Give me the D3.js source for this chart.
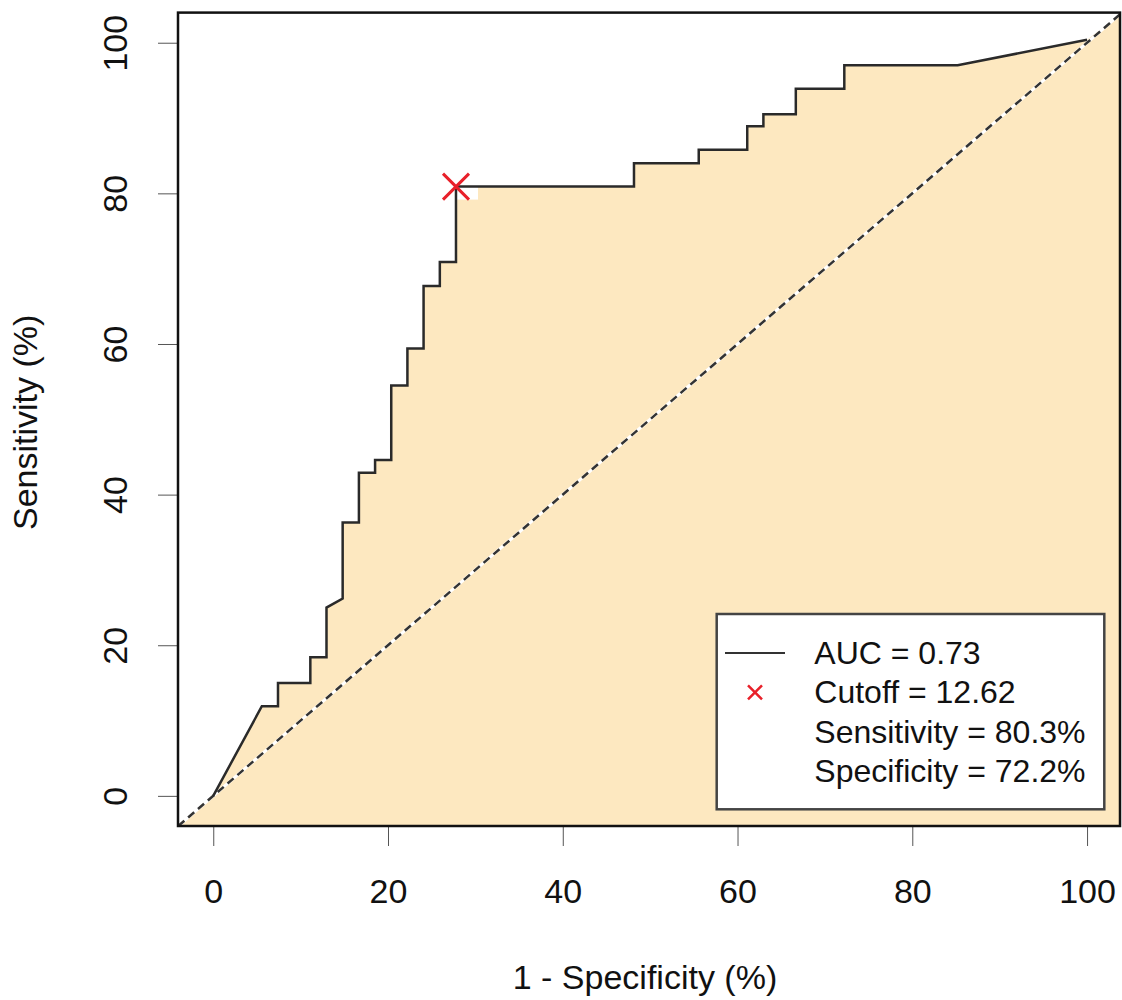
<!DOCTYPE html>
<html>
<head>
<meta charset="utf-8">
<script src="https://cdn.jsdelivr.net/npm/d3@7"></script>
<style>
  body { margin: 0; background: #fff; }
  text { font-family: "Liberation Sans", Arial, Helvetica, sans-serif; fill: #111; }
</style>
</head>
<body>
<svg width="1122" height="1000"></svg>
<script>
// ROC curve vertices (1 - specificity, sensitivity), in %
const fpr = [0, 5.56, 7.41, 7.41, 11.11, 11.11, 12.96, 12.96, 14.81, 14.81, 16.67, 16.67,
  18.52, 18.52, 20.37, 20.37, 22.22, 22.22, 24.07, 24.07, 25.93, 25.93, 27.78, 27.78,
  48.15, 48.15, 55.56, 55.56, 61.11, 61.11, 62.96, 62.96, 66.67, 66.67, 72.22, 72.22, 85.19, 100];
const tpr = [0, 11.9, 11.9, 15.0, 15.0, 18.4, 18.4, 25.0, 26.2, 36.3, 36.3, 42.9,
  42.9, 44.6, 44.6, 54.5, 54.5, 59.4, 59.4, 67.7, 67.7, 70.9, 70.9, 80.9,
  80.9, 84.0, 84.0, 85.8, 85.8, 88.9, 88.9, 90.5, 90.5, 93.9, 93.9, 97.0, 97.0, 100.4];
const cutoff = [27.78, 80.9];
const xTicks = [0, 20, 40, 60, 80, 100];
const yTicks = [0, 20, 40, 60, 80, 100];
const legendLabels = ['AUC = 0.73', 'Cutoff = 12.62', 'Sensitivity = 80.3%', 'Specificity = 72.2%'];

const svg = d3.select('svg');
const width = +svg.attr('width');
const height = +svg.attr('height');

const box = { left: 178, right: 1120, top: 12.6, bottom: 826 };

// R style: axis range extended by 4% on each side
const xScale = d3.scaleLinear().domain([-4, 104]).range([178.3, 1122]);
const yScale = d3.scaleLinear().domain([-4, 104]).range([826, 12.6]);

svg.append('clipPath').attr('id', 'plotclip')
  .append('rect')
  .attr('x', box.left).attr('y', box.top)
  .attr('width', box.right - box.left).attr('height', box.bottom - box.top);

const plot = svg.append('g').attr('clip-path', 'url(#plotclip)');

const line = d3.line().x(d => xScale(d[0])).y(d => yScale(d[1]));
const pts = fpr.map((f, i) => [f, tpr[i]]);

// area under the curve
plot.append('path')
  .attr('d', line([[-4, -4], ...pts, [104, 104], [104, -4]]) + 'Z')
  .attr('fill', '#fde8c0');

// white patch behind the cutoff marker
const cx = xScale(cutoff[0]);
const cy = yScale(cutoff[1]);
plot.append('rect')
  .attr('x', cx - 13).attr('y', cy - 24)
  .attr('width', 35).attr('height', 37)
  .attr('fill', '#fff');

// chance line
const diag = [[-4, -4], [104, 104]];
plot.append('path').attr('d', line(diag))
  .attr('stroke', '#fff').attr('stroke-width', 3).attr('fill', 'none');
plot.append('path').attr('d', line(diag))
  .attr('stroke', '#333').attr('stroke-width', 2.5)
  .attr('stroke-dasharray', '8,5').attr('fill', 'none');

// ROC curve
plot.append('path').attr('d', line(pts))
  .attr('stroke', '#2a2a2a').attr('stroke-width', 2.5).attr('fill', 'none');

// cutoff marker
const cross = (g, x, y, r, w) => {
  g.append('path')
    .attr('d', `M${x - r},${y - r}L${x + r},${y + r}M${x - r},${y + r}L${x + r},${y - r}`)
    .attr('stroke', '#e8202a').attr('stroke-width', w).attr('fill', 'none');
};
cross(plot, cx, cy, 13, 3);

// axes
const xAxisG = svg.append('g')
  .attr('transform', `translate(0,${box.bottom})`)
  .call(d3.axisBottom(xScale).tickValues(xTicks).tickSize(20).tickPadding(33));
xAxisG.select('.domain').remove();
xAxisG.selectAll('.tick line').attr('stroke', '#555');
xAxisG.selectAll('.tick text').attr('font-size', 34).attr('fill', '#111')
  .attr('font-family', '"Liberation Sans", Arial, sans-serif');

const yAxisG = svg.append('g')
  .attr('transform', `translate(${box.left},0)`)
  .call(d3.axisLeft(yScale).tickValues(yTicks).tickSize(20));
yAxisG.select('.domain').remove();
yAxisG.selectAll('.tick line').attr('stroke', '#555');
yAxisG.selectAll('.tick text')
  .attr('transform', 'rotate(-90)')
  .attr('x', 0).attr('y', -51).attr('dy', 0)
  .attr('text-anchor', 'middle')
  .attr('font-size', 34).attr('fill', '#111')
  .attr('font-family', '"Liberation Sans", Arial, sans-serif');

// axis titles
svg.append('text')
  .attr('x', (box.left + width) / 2 - 5).attr('y', 989)
  .attr('text-anchor', 'middle').attr('font-size', 34)
  .text('1 - Specificity (%)');

svg.append('text')
  .attr('transform', `translate(37,${(box.top + box.bottom) / 2 + 3}) rotate(-90)`)
  .attr('text-anchor', 'middle').attr('font-size', 34)
  .text('Sensitivity (%)');

// plot frame
svg.append('rect')
  .attr('x', box.left).attr('y', box.top)
  .attr('width', box.right - box.left).attr('height', box.bottom - box.top)
  .attr('fill', 'none').attr('stroke', '#111').attr('stroke-width', 2.5);

// legend
const lg = svg.append('g');
lg.append('rect')
  .attr('x', 716.7).attr('y', 614)
  .attr('width', 387.6).attr('height', 195.3)
  .attr('fill', '#fff').attr('stroke', '#444').attr('stroke-width', 2.5);

const rowY = i => 653 + i * 39.3;
lg.append('line')
  .attr('x1', 725).attr('x2', 785)
  .attr('y1', rowY(0)).attr('y2', rowY(0))
  .attr('stroke', '#333').attr('stroke-width', 2);
cross(lg, 755, rowY(1), 7, 2.5);

lg.selectAll('text.leg').data(legendLabels)
  .enter().append('text')
  .attr('class', 'leg')
  .attr('x', 814.3)
  .attr('y', (d, i) => rowY(i) + 11)
  .attr('font-size', 32)
  .attr('fill', '#222')
  .text(d => d);
</script>
</body>
</html>
